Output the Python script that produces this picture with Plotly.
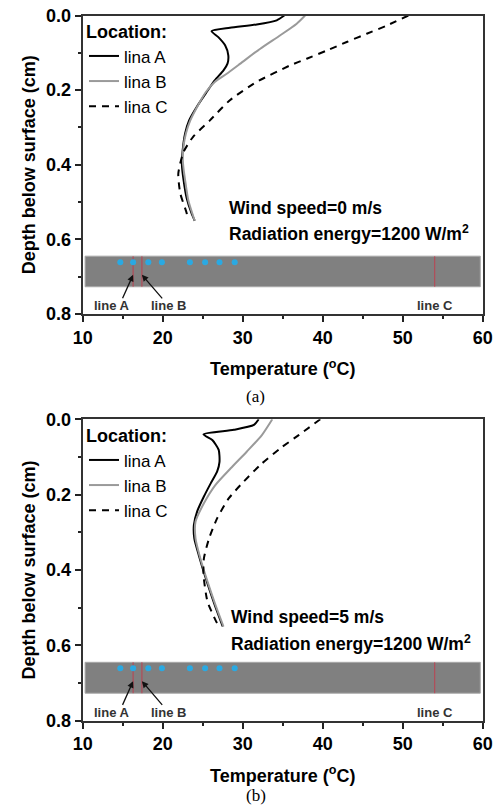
import plotly.graph_objects as go

# ---------------- data ----------------
# Panel (a): wind speed 0 m/s
a_lineA_T = [35.2, 34.25, 31.75, 28.4, 26.1, 26.95, 27.8, 28.2, 28.1, 27.6, 26.5, 25.5, 24.25, 23.3, 22.8, 22.5, 22.4, 22.6, 23.0, 23.6, 24.0]
a_lineA_d = [0.0, 0.013, 0.024, 0.033, 0.042, 0.058, 0.080, 0.107, 0.129, 0.147, 0.174, 0.205, 0.245, 0.281, 0.316, 0.36, 0.40, 0.44, 0.49, 0.53, 0.55]
a_lineB_T = [37.8, 36.75, 34.7, 32.2, 29.7, 28.0, 26.5, 25.4, 24.3, 23.45, 22.9, 22.6, 22.5, 22.6, 22.8, 23.2, 24.0]
a_lineB_d = [0.0, 0.022, 0.053, 0.089, 0.129, 0.156, 0.178, 0.205, 0.245, 0.281, 0.316, 0.35, 0.38, 0.41, 0.441, 0.495, 0.55]
a_lineC_T = [50.7, 48.0, 45.5, 43.0, 40.5, 38.0, 35.9, 31.75, 28.4, 25.9, 23.8, 22.6, 21.95, 22.2, 23.0, 23.1]
a_lineC_d = [0.0, 0.027, 0.049, 0.071, 0.094, 0.116, 0.134, 0.178, 0.227, 0.281, 0.325, 0.366, 0.424, 0.477, 0.53, 0.545]

# Panel (b): wind speed 5 m/s
b_lineA_T = [32.0, 31.4, 28.9, 25.1, 26.2, 27.0, 27.1, 26.8, 26.0, 25.15, 24.3, 23.9, 23.95, 24.5, 25.5, 26.5, 27.5]
b_lineA_d = [0.0, 0.015, 0.028, 0.040, 0.055, 0.081, 0.113, 0.139, 0.170, 0.205, 0.245, 0.28, 0.316, 0.36, 0.43, 0.493, 0.55]
b_lineB_T = [33.7, 32.4, 30.5, 28.5, 26.6, 25.15, 24.1, 24.1, 24.7, 25.6, 26.6, 27.6]
b_lineB_d = [0.0, 0.042, 0.086, 0.130, 0.174, 0.223, 0.272, 0.316, 0.369, 0.431, 0.493, 0.55]
b_lineC_T = [39.7, 37.0, 34.7, 32.2, 30.1, 28.25, 26.8, 25.8, 25.15, 25.1, 25.6, 26.6, 26.9]
b_lineC_d = [0.0, 0.042, 0.077, 0.121, 0.166, 0.210, 0.263, 0.316, 0.369, 0.413, 0.484, 0.533, 0.545]

legend_names = ["lina A", "lina B", "lina C"]

# schematic strip (same for both panels)
strip_T = [10.3, 59.7]
strip_d = [0.645, 0.727]
red_line_T = [16.3, 17.4, 54.0]
dot_T = [14.7, 16.3, 18.2, 19.9, 23.4, 25.3, 27.1, 29.0]
dot_d = 0.661
label_text = ["line A", "line B", "line C"]
label_T = [13.6, 20.7, 54.0]
label_d = 0.778
arrow_head_T = [16.3, 17.4]
arrow_tail_T = [14.9, 20.1]
arrow_head_d = 0.695
arrow_tail_d = 0.762

x_ticks = [10, 20, 30, 40, 50, 60]
y_ticks = [0.0, 0.2, 0.4, 0.6, 0.8]

wind_text = ["Wind speed=0 m/s", "Wind speed=5 m/s"]
rad_text = "Radiation energy=1200 W/m<sup>2</sup>"
wind_pos = [(28.0, 0.516), (28.3, 0.524)]
rad_pos = [(28.0, 0.583), (28.3, 0.595)]
captions = ["(a)", "(b)"]

# ---------------- figure ----------------
fig = go.Figure()
FONT = "Liberation Sans, Arial, sans-serif"

panels = [
    ("x", "y", "legend", (a_lineA_T, a_lineA_d), (a_lineB_T, a_lineB_d), (a_lineC_T, a_lineC_d)),
    ("x2", "y2", "legend2", (b_lineA_T, b_lineA_d), (b_lineB_T, b_lineB_d), (b_lineC_T, b_lineC_d)),
]

styles = [
    dict(color="black", width=2),
    dict(color="#9a9a9a", width=2),
    dict(color="black", width=2, dash="7px,6px"),
]

for xa, ya, lg, A, B, C in panels:
    for rt in red_line_T:
        fig.add_trace(go.Scatter(x=[rt, rt], y=strip_d, mode="lines", xaxis=xa, yaxis=ya,
                                 line=dict(color="rgba(205,45,65,0.7)", width=1.1),
                                 showlegend=False, hoverinfo="skip"))
    fig.add_trace(go.Scatter(x=dot_T, y=[dot_d] * len(dot_T), mode="markers", xaxis=xa, yaxis=ya,
                             marker=dict(color="#2aa9e2", size=6), showlegend=False, hoverinfo="skip"))
    order = [(A, 0), (B, 1), (C, 2)]
    for (T, d), i in order:
        fig.add_trace(go.Scatter(x=T, y=d, mode="lines", name=legend_names[i], xaxis=xa, yaxis=ya,
                                 line=dict(shape="spline", smoothing=0.6, **styles[i]),
                                 legend=lg, showlegend=True))
    fig.add_shape(type="rect", xref=xa, yref=ya, x0=strip_T[0], x1=strip_T[1],
                  y0=strip_d[0], y1=strip_d[1], fillcolor="#808080",
                  line=dict(color="#a8a8a8", width=1), layer="below")

anns = []
for k, (xa, ya) in enumerate([("x", "y"), ("x2", "y2")]):
    for t, lt in zip(label_text, label_T):
        anns.append(dict(x=lt, y=label_d, xref=xa, yref=ya, text="<b>" + t + "</b>", showarrow=False,
                         font=dict(family="Liberation Sans Narrow, Liberation Sans, Arial", size=13, color="#333333")))
    for ht, tt in zip(arrow_head_T, arrow_tail_T):
        anns.append(dict(x=ht, y=arrow_head_d, ax=tt, ay=arrow_tail_d, xref=xa, yref=ya,
                         axref=xa, ayref=ya, text="", showarrow=True, arrowhead=2,
                         arrowsize=1, arrowwidth=1.3, arrowcolor="#111111"))
    anns.append(dict(x=wind_pos[k][0], y=wind_pos[k][1], xref=xa, yref=ya, xanchor="left",
                     text="<b>" + wind_text[k] + "</b>", showarrow=False,
                     font=dict(family=FONT, size=17.5, color="black")))
    anns.append(dict(x=rad_pos[k][0], y=rad_pos[k][1], xref=xa, yref=ya, xanchor="left",
                     text="<b>" + rad_text + "</b>", showarrow=False,
                     font=dict(family=FONT, size=17.5, color="black")))

anns.append(dict(x=255 / 498, y=1 - 396.7 / 812, xref="paper", yref="paper", text=captions[0],
                 showarrow=False, font=dict(family="Liberation Serif, Times New Roman, serif", size=17, color="black")))
anns.append(dict(x=256 / 498, y=1 - 807 / 812, xref="paper", yref="paper", text=captions[1],
                 showarrow=False, font=dict(family="Liberation Serif, Times New Roman, serif", size=17, color="black")))


def xaxis_cfg(anchor):
    return dict(domain=[82.7 / 498, 482.7 / 498], anchor=anchor, range=[10, 60], automargin=False,
                tickvals=x_ticks, ticks="outside", ticklen=6, tickwidth=1.5, tickcolor="#222",
                minor=dict(dtick=5, tick0=10, ticks="outside", ticklen=3, tickwidth=1.5, tickcolor="#222"),
                showline=True, linecolor="#333", linewidth=2, mirror=True, showgrid=False, zeroline=False,
                tickfont=dict(family=FONT, size=18, color="black", weight="bold"),
                title=dict(text="Temperature (<sup>o</sup>C)", standoff=16,
                           font=dict(family=FONT, size=18, color="black", weight="bold")))


def yaxis_cfg(anchor, dom):
    return dict(domain=dom, anchor=anchor, range=[0.8, 0.0], tickvals=y_ticks, tickformat=".1f",
                automargin=False,
                ticks="outside", ticklen=6, tickwidth=1.5, tickcolor="#222",
                minor=dict(dtick=0.1, tick0=0, ticks="outside", ticklen=3, tickwidth=1.5, tickcolor="#222"),
                showline=True, linecolor="#333", linewidth=2, mirror=True, showgrid=False, zeroline=False,
                tickfont=dict(family=FONT, size=18, color="black", weight="bold"),
                title=dict(text="Depth below surface (cm)", standoff=6,
                           font=dict(family=FONT, size=18, color="black", weight="bold")))


def legend_cfg(ytop):
    return dict(x=84 / 498, y=ytop, xanchor="left", yanchor="top", bgcolor="rgba(0,0,0,0)",
                borderwidth=0, tracegroupgap=0, itemwidth=30,
                font=dict(family=FONT, size=17, color="black"),
                title=dict(text="<b>Location:</b>", font=dict(family=FONT, size=18, color="black")))


fig.update_layout(
    width=498, height=812, autosize=False,
    margin=dict(l=0, r=0, t=0, b=0, autoexpand=False),
    paper_bgcolor="white", plot_bgcolor="white",
    xaxis=xaxis_cfg("y"),
    yaxis=yaxis_cfg("x", [1 - 314 / 812, 1 - 15.5 / 812]),
    xaxis2=xaxis_cfg("y2"),
    yaxis2=yaxis_cfg("x2", [1 - 720.7 / 812, 1 - 419.3 / 812]),
    legend=legend_cfg(1 - 15 / 812),
    legend2=legend_cfg(1 - 419 / 812),
    annotations=anns,
    showlegend=True,
)

fig.write_html("out.html")
